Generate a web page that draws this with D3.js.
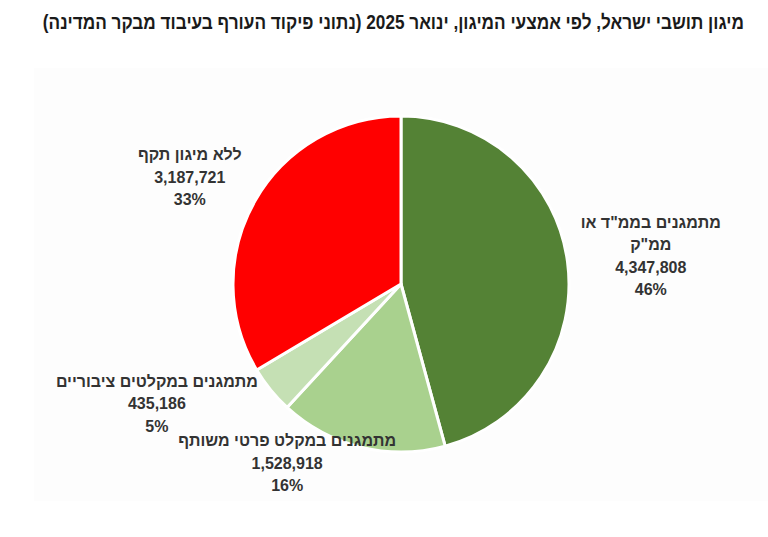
<!DOCTYPE html>
<html>
<head>
<meta charset="utf-8">
<script src="https://cdn.jsdelivr.net/npm/d3@7"></script>
<style>
  html, body { margin: 0; padding: 0; background: #ffffff; }
  svg text { font-family: 'Liberation Sans', 'DejaVu Sans', sans-serif; }
</style>
</head>
<body>
<div id="chart"></div>
<script>
// Data
const categories = [
  'מתמגנים בממ"ד או\nממ"ק',
  'מתמגנים במקלט פרטי משותף',
  'מתמגנים במקלטים ציבוריים',
  'ללא מיגון תקף'
];
const values = [4347808, 1528918, 435186, 3187721];
const percentLabels = ['46%', '16%', '5%', '33%'];
const colors = ['#548235', '#a9d18e', '#c5e0b4', '#ff0000'];
const title = 'מיגון תושבי ישראל, לפי אמצעי המיגון, ינואר 2025 (נתוני פיקוד העורף בעיבוד מבקר המדינה)';

// Layout
const width = 768;
const height = 537;
const cx = 401;
const cy = 284;
const radius = 168;
const lineHeight = 22.5;
const titleRight = 744;
const titleWidth = 702;
// nudges of each label block away from the label arc centroid
const labelNudge = [[25, 2], [-60, -41], [-68, -23], [-14, 5]];

const svg = d3
  .select('#chart')
  .append('svg')
  .attr('width', width)
  .attr('height', height);

// very faint plot panel
svg
  .append('rect')
  .attr('x', 34)
  .attr('y', 68)
  .attr('width', width - 34)
  .attr('height', 433)
  .attr('fill', '#fdfdfd');

// Title (condensed to fit like the narrow original font)
const titleG = svg.append('g');
const titleText = titleG
  .append('text')
  .attr('x', 0)
  .attr('y', 0)
  .attr('direction', 'rtl')
  .attr('text-anchor', 'start')
  .attr('font-size', 20)
  .attr('font-weight', 'bold')
  .attr('fill', '#1a1a1a')
  .text(title);
const natural = titleText.node().getComputedTextLength();
titleG.attr('transform', `translate(${titleRight},29) scale(${titleWidth / natural},1)`);

const pie = d3.pie().sort(null).value((d) => d);
const arcs = pie(values);

const arc = d3.arc().innerRadius(0).outerRadius(radius);
const labelArc = d3.arc().innerRadius(radius * 1.35).outerRadius(radius * 1.35);

const g = svg.append('g').attr('transform', `translate(${cx},${cy})`);

g.selectAll('path')
  .data(arcs)
  .join('path')
  .attr('d', arc)
  .attr('fill', (d, i) => colors[i])
  .attr('stroke', '#ffffff')
  .attr('stroke-width', 3)
  .attr('stroke-linejoin', 'round');

// Labels: category lines, value, percent
const fmt = d3.format(',');
const labels = g
  .selectAll('g.label')
  .data(arcs)
  .join('g')
  .attr('class', 'label')
  .attr('transform', (d, i) => {
    const [x, y] = labelArc.centroid(d);
    return `translate(${x + labelNudge[i][0]},${y + labelNudge[i][1]})`;
  });

labels.each(function (d, i) {
  const lines = categories[i].split('\n').concat([fmt(values[i]), percentLabels[i]]);
  const top = -((lines.length - 1) * lineHeight) / 2;
  d3.select(this)
    .selectAll('text')
    .data(lines)
    .join('text')
    .attr('x', 0)
    .attr('y', (t, j) => top + j * lineHeight)
    .attr('dy', '0.35em')
    .attr('direction', 'rtl')
    .attr('text-anchor', 'middle')
    .attr('font-size', 16)
    .attr('font-weight', 'bold')
    .attr('fill', '#333333')
    .text((t) => t);
});
</script>
</body>
</html>
